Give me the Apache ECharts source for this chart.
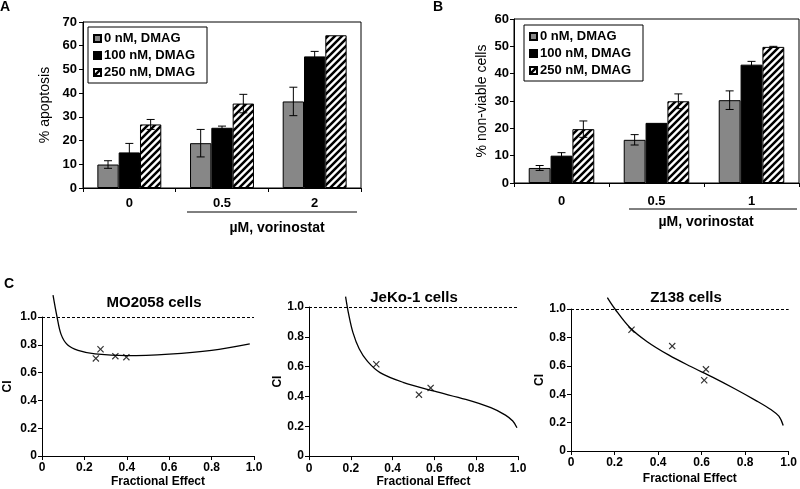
<!DOCTYPE html>
<html><head><meta charset="utf-8">
<script src="https://cdn.jsdelivr.net/npm/echarts@6/dist/echarts.min.js"></script>
<style>html,body{margin:0;padding:0;background:#fff}#c{width:800px;height:489px}</style>
</head><body><div id="c"></div>
<script>
// ---------- data ----------
const seriesNames = ['0 nM, DMAG', '100 nM, DMAG', '250 nM, DMAG'];
const catsA = ['0', '0.5', '2'];
const catsB = ['0', '0.5', '1'];
const apoGray = [9.9, 18.9, 36.5];
const apoGrayErr = [1.6, 5.8, 6.0];
const apoBlack = [15.0, 25.4, 55.5];
const apoBlackErr = [3.8, 0.7, 2.1];
const apoHatch = [26.8, 35.6, 64.4];
const apoHatchErr = [2.1, 3.9, 0];
const nvGray = [5.5, 15.8, 30.3];
const nvGrayErr = [0.9, 1.9, 3.4];
const nvBlack = [10.0, 22.0, 43.3];
const nvBlackErr = [1.1, 0, 1.2];
const nvHatch = [19.7, 29.9, 49.8];
const nvHatchErr = [3.0, 2.7, 0.2];
const moCurve = [[0.052,1.157],[0.071,1.0],[0.09,0.875],[0.12,0.8],[0.17,0.76],[0.25,0.735],[0.4,0.722],[0.6,0.733],[0.8,0.76],[0.98,0.807]];
const moPts = [[0.254,0.702],[0.276,0.768],[0.346,0.718],[0.398,0.711]];
const jeCurve = [[0.175,1.07],[0.19,0.95],[0.21,0.83],[0.24,0.72],[0.28,0.635],[0.34,0.56],[0.45,0.495],[0.6,0.435],[0.75,0.38],[0.87,0.325],[0.94,0.275],[0.975,0.235],[0.995,0.19]];
const jePts = [[0.322,0.616],[0.526,0.412],[0.582,0.457]];
const zCurve = [[0.167,1.08],[0.202,1.0],[0.27,0.87],[0.35,0.77],[0.45,0.675],[0.55,0.595],[0.65,0.52],[0.75,0.44],[0.85,0.355],[0.92,0.29],[0.955,0.245],[0.975,0.18]];
const zPts = [[0.278,0.854],[0.465,0.739],[0.62,0.575],[0.612,0.498]];

// ---------- styles ----------
const FONT = '"Liberation Sans", Arial, sans-serif';
function hatch() {
  const s = 7, cv = document.createElement('canvas');
  cv.width = s; cv.height = s;
  const g = cv.getContext('2d');
  g.fillStyle = '#fff'; g.fillRect(0, 0, s, s);
  g.strokeStyle = '#000'; g.lineWidth = 2.5;
  g.beginPath();
  g.moveTo(-1, s + 1); g.lineTo(s + 1, -1);
  g.moveTo(-2, 2); g.lineTo(2, -2);
  g.moveTo(s - 2, s + 2); g.lineTo(s + 2, s - 2);
  g.stroke();
  return { image: cv, repeat: 'repeat' };
}
const barStyles = [
  { color: '#878787', borderColor: '#000', borderWidth: 1 },
  { color: '#000', borderColor: '#000', borderWidth: 1 },
  { color: hatch(), borderColor: '#000', borderWidth: 1 }
];
const GAP = 0.31;
const lab = (sz, extra) => Object.assign({ color: '#000', fontFamily: FONT, fontWeight: 'bold', fontSize: sz }, extra || {});
const axLine = { show: true, lineStyle: { color: '#000', width: 1 } };
const tick = { show: true, length: 4, inside: false, lineStyle: { color: '#000', width: 1 } };

const grids = [
  { left: 83, top: 22, width: 278, height: 166, show: true, borderColor: '#000', borderWidth: 1 },
  { left: 514, top: 19, width: 285, height: 164, show: true, borderColor: '#000', borderWidth: 1 },
  { left: 42, top: 317, width: 212, height: 140 },
  { left: 309, top: 307, width: 209, height: 151 },
  { left: 571, top: 309, width: 219, height: 142 }
];

const xAxes = [
  { type: 'category', gridIndex: 0, data: catsA, axisLine: axLine, axisTick: Object.assign({ interval: 0 }, tick), axisLabel: lab(13, { margin: 9 }) },
  { type: 'category', gridIndex: 1, data: catsB, axisLine: axLine, axisTick: Object.assign({ interval: 0 }, tick), axisLabel: lab(13, { margin: 12 }) }
];
const yAxes = [
  { type: 'value', gridIndex: 0, min: 0, max: 70, interval: 10, axisLine: axLine, axisTick: tick, splitLine: { show: false }, axisLabel: lab(13, { margin: 6 }),
    name: '% apoptosis', nameLocation: 'middle', nameRotate: 90, nameGap: 31, nameTextStyle: { color: '#000', fontFamily: FONT, fontSize: 14 } },
  { type: 'value', gridIndex: 1, min: 0, max: 60, interval: 10, axisLine: axLine, axisTick: tick, splitLine: { show: false }, axisLabel: lab(13, { margin: 5 }),
    name: '% non-viable cells', nameLocation: 'middle', nameRotate: 90, nameGap: 25, nameTextStyle: { color: '#000', fontFamily: FONT, fontSize: 14 } }
];
const ciFmt = v => (v === 0 ? '0' : v.toFixed(1));
const cfg = [
  { xm: 6, xg: 20, yg: 28 },
  { xm: 7, xg: 18, yg: 24 },
  { xm: 6, xg: 22, yg: 25 }
];
cfg.forEach((c, i) => {
  xAxes.push({ type: 'value', gridIndex: i + 2, min: 0, max: 1, interval: 0.2, axisLine: axLine, axisTick: tick, splitLine: { show: false },
    axisLabel: lab(12, { margin: c.xm, formatter: ciFmt, showMinLabel: true, showMaxLabel: true }),
    name: 'Fractional Effect', nameLocation: 'middle', nameGap: c.xg,
    nameTextStyle: lab(12, { padding: [0, 0, 0, 20] }) });
  yAxes.push({ type: 'value', gridIndex: i + 2, min: 0, max: 1, interval: 0.2, axisLine: axLine, axisTick: tick, splitLine: { show: false },
    axisLabel: lab(12, { margin: 5, formatter: ciFmt }),
    name: 'CI', nameLocation: 'middle', nameRotate: 90, nameGap: c.yg, nameTextStyle: lab(12) });
});

const series = [];
function addBars(gi, vals, errs) {
  vals.forEach((v, si) => {
    series.push({ type: 'bar', name: seriesNames[si], xAxisIndex: gi, yAxisIndex: gi, data: v,
      barGap: '0%', barCategoryGap: (GAP * 100) + '%', itemStyle: barStyles[si], emphasis: { disabled: true } });
  });
  const ed = [];
  errs.forEach((e, si) => e.forEach((ev, ci) => ed.push([ci, si, vals[si][ci], ev])));
  series.push({ type: 'custom', name: 'err' + gi, xAxisIndex: gi, yAxisIndex: gi, z: 5, data: ed,
    renderItem: function (params, api) {
      const ci = api.value(0), si = api.value(1), v = api.value(2), e = api.value(3);
      if (!e) return null;
      const band = api.size([1, 0])[0];
      const bw = band * (1 - GAP) / 3;
      const cx = api.coord([ci, v])[0] + (si - 1) * bw;
      const yt = api.coord([ci, v + e])[1], yb = api.coord([ci, v - e])[1];
      const st = { stroke: '#000', lineWidth: 1 };
      const h = 4;
      return { type: 'group', children: [
        { type: 'line', shape: { x1: cx, y1: yt, x2: cx, y2: yb }, style: st },
        { type: 'line', shape: { x1: cx - h, y1: yt, x2: cx + h, y2: yt }, style: st },
        { type: 'line', shape: { x1: cx - h, y1: yb, x2: cx + h, y2: yb }, style: st }
      ] };
    } });
}
addBars(0, [apoGray, apoBlack, apoHatch], [apoGrayErr, apoBlackErr, apoHatchErr]);
addBars(1, [nvGray, nvBlack, nvHatch], [nvGrayErr, nvBlackErr, nvHatchErr]);

const X = 'path://M0,1.2L1.2,0L5,3.8L8.8,0L10,1.2L6.2,5L10,8.8L8.8,10L5,6.2L1.2,10L0,8.8L3.8,5Z';
[[moCurve, moPts], [jeCurve, jePts], [zCurve, zPts]].forEach((p, i) => {
  series.push({ type: 'line', name: 'curve' + i, xAxisIndex: i + 2, yAxisIndex: i + 2, data: p[0], smooth: 0.35,
    showSymbol: false, clip: false, lineStyle: { color: '#000', width: 1.3 },
    markLine: { silent: true, symbol: ['none', 'none'], label: { show: false }, lineStyle: { color: '#000', width: 1, type: [3, 2] }, data: [{ yAxis: 1 }] } });
  series.push({ type: 'scatter', name: 'pts' + i, xAxisIndex: i + 2, yAxisIndex: i + 2, data: p[1], symbol: X, symbolSize: 7,
    itemStyle: { color: '#000' } });
});

const legendBase = {
  orient: 'vertical', data: seriesNames, icon: 'rect', itemWidth: 7, itemHeight: 7, itemGap: 4,
  borderColor: '#000', borderWidth: 1, padding: [5, 12, 4, 5], selectedMode: false,
  textStyle: lab(13, { padding: [0, 0, 0, -2] })
};

const titles = [
  { text: 'A', left: 0, top: 0 }, { text: 'B', left: 433, top: 0 }, { text: 'C', left: 4, top: 277 }
].map(t => Object.assign(t, { textStyle: lab(14), padding: 0 }));
[['MO2058 cells', 154, 295], ['JeKo-1 cells', 414, 290], ['Z138 cells', 686, 290]].forEach(t => {
  titles.push({ text: t[0], left: t[1], top: t[2], textAlign: 'center', padding: 0, textStyle: lab(15) });
});

const chart = echarts.init(document.getElementById('c'), null, { renderer: 'canvas' });
chart.setOption({
  animation: false,
  backgroundColor: '#fff',
  title: titles,
  grid: grids,
  xAxis: xAxes,
  yAxis: yAxes,
  legend: [
    Object.assign({ left: 88, top: 27 }, legendBase),
    Object.assign({ left: 524, top: 25 }, legendBase)
  ],
  graphic: [
    { type: 'line', shape: { x1: 187, y1: 212, x2: 357, y2: 212 }, style: { stroke: '#000', lineWidth: 1 } },
    { type: 'text', x: 277, y: 228, style: { text: 'µM, vorinostat', align: 'center', verticalAlign: 'middle', fill: '#000', font: 'bold 14px ' + FONT } },
    { type: 'line', shape: { x1: 629, y1: 209, x2: 797, y2: 209 }, style: { stroke: '#000', lineWidth: 1 } },
    { type: 'text', x: 706, y: 222, style: { text: 'µM, vorinostat', align: 'center', verticalAlign: 'middle', fill: '#000', font: 'bold 14px ' + FONT } }
  ],
  series: series
});
</script></body></html>
